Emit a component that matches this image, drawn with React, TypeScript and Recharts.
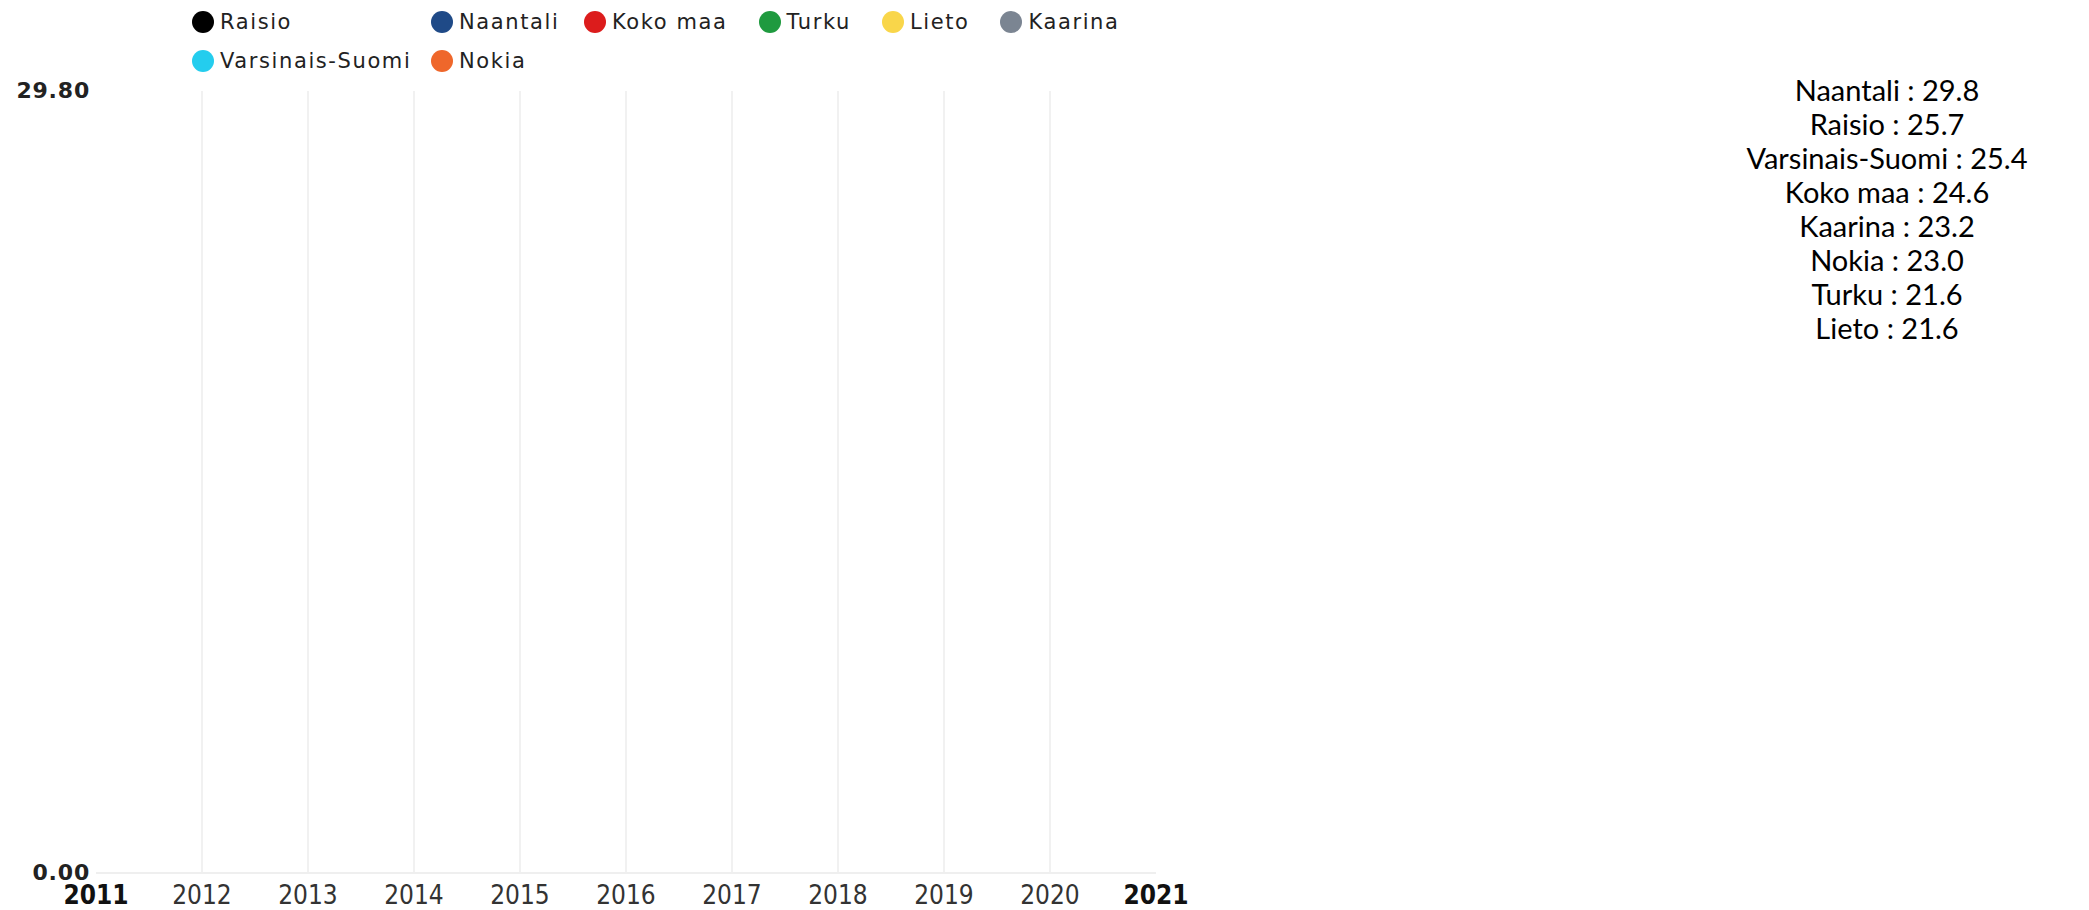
import React from "react";
import { LineChart, Line, XAxis, YAxis, ReferenceLine, Legend } from "recharts";

// Years on the x axis.
const years = [2011, 2012, 2013, 2014, 2015, 2016, 2017, 2018, 2019, 2020, 2021];

// Series, in legend order.
const seriesNames = ["Raisio", "Naantali", "Koko maa", "Turku", "Lieto", "Kaarina", "Varsinais-Suomi", "Nokia"];
const seriesColors = ["#000000", "#1f4a87", "#dc1c1c", "#1f9a3f", "#f9d64a", "#7b8592", "#24cdee", "#ef672b"];

// the line bodies are not drawn there, so the earlier years stay empty.
const raisio = [null, null, null, null, null, null, null, null, null, null, 25.7];
const naantali = [null, null, null, null, null, null, null, null, null, null, 29.8];
const kokoMaa = [null, null, null, null, null, null, null, null, null, null, 24.6];
const turku = [null, null, null, null, null, null, null, null, null, null, 21.6];
const lieto = [null, null, null, null, null, null, null, null, null, null, 21.6];
const kaarina = [null, null, null, null, null, null, null, null, null, null, 23.2];
const varsinaisSuomi = [null, null, null, null, null, null, null, null, null, null, 25.4];
const nokia = [null, null, null, null, null, null, null, null, null, null, 23.0];

const seriesValues: (number | null)[][] = [raisio, naantali, kokoMaa, turku, lieto, kaarina, varsinaisSuomi, nokia];

const data = years.map((year, i) => {
  const row: Record<string, number | null> = { year };
  seriesNames.forEach((name, s) => {
    row[name] = seriesValues[s][i];
  });
  return row;
});

const latest = seriesNames
  .map((name, s) => ({ name, value: seriesValues[s][seriesValues[s].length - 1] as number }))
  .sort((a, b) => b.value - a.value);

const yMax = Math.max(...latest.map((d) => d.value));

const AXIS_FONT = "'DejaVu Sans Condensed', 'DejaVu Sans', sans-serif";

function XTick(props: any) {
  const { x, y, payload, index, visibleTicksCount } = props;
  const edge = index === 0 || index === visibleTicksCount - 1;
  return (
    <text
      x={x}
      y={y + 31}
      textAnchor="middle"
      fontFamily={AXIS_FONT}
      fontStretch="condensed"
      fontSize={26}
      fontWeight={edge ? 700 : 400}
      fill={edge ? "#111" : "#333"}
    >
      {payload.value}
    </text>
  );
}

function YTick(props: any) {
  const { x, y, payload } = props;
  return (
    <text
      x={x}
      y={y + 7}
      textAnchor="end"
      fontFamily="'DejaVu Sans', sans-serif"
      fontSize={22}
      fontWeight={700}
      letterSpacing={0.8}
      fill="#222"
    >
      {Number(payload.value).toFixed(2)}
    </text>
  );
}

// Two legend rows; the first two columns line up, the rest flow.
const LEGEND_ROWS = [
  [0, 1, 2, 3, 4, 5],
  [6, 7],
];
const COLUMN_WIDTHS = [239, 153];

function LegendRows() {
  return (
    <div
      style={{
        fontFamily: "'DejaVu Sans', sans-serif",
        fontSize: 21,
        letterSpacing: 1.6,
        color: "#222",
        whiteSpace: "nowrap",
      }}
    >
      {LEGEND_ROWS.map((row, r) => (
        <div key={r} style={{ display: "flex", alignItems: "center", height: 39.5 }}>
          {row.map((s, i) => (
            <div
              key={seriesNames[s]}
              style={{
                display: "flex",
                alignItems: "center",
                width: COLUMN_WIDTHS[i],
                marginRight: i < COLUMN_WIDTHS.length ? 0 : 31,
                flex: "none",
              }}
            >
              <span
                style={{
                  display: "inline-block",
                  width: 22,
                  height: 22,
                  borderRadius: "50%",
                  background: seriesColors[s],
                  marginRight: 6,
                  flex: "none",
                }}
              />
              {seriesNames[s]}
            </div>
          ))}
        </div>
      ))}
    </div>
  );
}

export default function App() {
  return (
    <div style={{ position: "absolute", left: 0, top: 0, width: 2089, height: 910, background: "#fff" }}>
      <LineChart width={1200} height={910} data={data} margin={{ top: 91, right: 44, bottom: 0, left: 0 }}>
        <XAxis
          dataKey="year"
          type="number"
          domain={[years[0], years[years.length - 1]]}
          ticks={years}
          interval={0}
          height={37}
          tickLine={false}
          tickSize={0}
          tickMargin={0}
          axisLine={{ stroke: "#efefef", strokeWidth: 2 }}
          tick={<XTick />}
        />
        <YAxis
          type="number"
          domain={[0, yMax]}
          ticks={[0, yMax]}
          width={96}
          axisLine={false}
          tickLine={false}
          tickSize={0}
          tickMargin={6}
          tick={<YTick />}
        />
        {years.slice(1, -1).map((year) => (
          <ReferenceLine key={year} x={year} stroke="#ececec" strokeWidth={1.5} ifOverflow="extendDomain" />
        ))}
        <Legend
          verticalAlign="middle"
          align="center"
          layout="horizontal"
          content={<LegendRows />}
          wrapperStyle={{ top: 2, left: 192, width: 1000, height: 80 }}
        />
        {seriesNames.map((name, s) => (
          <Line
            key={name}
            type="linear"
            dataKey={name}
            name={name}
            stroke={seriesColors[s]}
            strokeWidth={3}
            dot={false}
            isAnimationActive={false}
          />
        ))}
      </LineChart>
      <div
        style={{
          position: "absolute",
          left: 1687,
          top: 72.5,
          width: 400,
          textAlign: "center",
          fontFamily: "Lato, 'Open Sans', sans-serif",
          fontSize: 29,
          lineHeight: "34px",
          color: "#000",
        }}
      >
        {latest.map((d) => (
          <div key={d.name}>
            {d.name} : {d.value.toFixed(1)}
          </div>
        ))}
      </div>
    </div>
  );
}
